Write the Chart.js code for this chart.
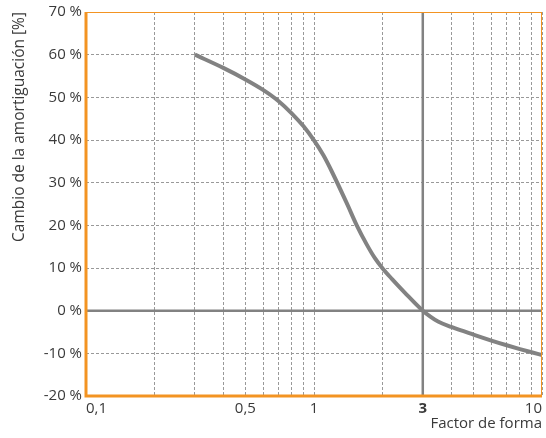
<!DOCTYPE html>
<html><head><meta charset="utf-8">
<script src="https://cdn.jsdelivr.net/npm/chart.js@4"></script>
<style>html,body{margin:0;padding:0;background:#fff}#wrap{width:546px;height:438px}</style>
</head><body><div id="wrap"><canvas id="c"></canvas></div>
<script>
// ---- data ----
const shapeFactor = [0.3,0.4,0.5,0.6,0.7,0.8,0.9,1.0,1.1,1.2,1.4,1.54,1.7,1.85,2.0,2.2,2.5,3.0,3.25,3.5,4,5,6,7,8,9,10];
const dampingChange = [60,56.9,54.2,51.7,49.1,46.2,43.2,39.9,36.4,32.5,24.9,20.0,15.6,12.3,9.9,7.4,4.25,0,-1.45,-2.55,-3.8,-5.6,-7.0,-8.1,-9.0,-9.75,-10.4];
const xGridValues = [0.1,0.2,0.3,0.4,0.5,0.6,0.7,0.8,0.9,1,2,3,4,5,6,7,8,9,10];
const xTickLabels = {'0.1':'0,1','0.5':'0,5','1':'1','3':'3','10':'10'};
const yMin = -20, yMax = 70, yStep = 10;
const refX = 3, refY = 0;
const xMin = 0.1, xMax = 10;
const yTitle = 'Cambio de la amortiguación [%]';
const xTitle = 'Factor de forma';

const ORANGE = '#F39422';
const GRAY = '#828282';
const TXT = '#3a3a3a';
const FONT = 'Open Sans';

const curve = shapeFactor.map((x,i)=>({x, y: dampingChange[i]}));

const framePlugin = {
  id:'frame',
  afterDraw(chart){
    const {ctx, chartArea:a} = chart;
    ctx.save();
    ctx.strokeStyle = ORANGE; ctx.lineWidth = 1; ctx.setLineDash([]);
    ctx.beginPath();
    ctx.moveTo(a.left, a.top+0.5); ctx.lineTo(a.right, a.top+0.5);
    ctx.moveTo(a.right-0.5, a.top); ctx.lineTo(a.right-0.5, a.bottom);
    ctx.stroke();
    ctx.lineWidth = 3;
    ctx.beginPath();
    ctx.moveTo(a.left, a.top); ctx.lineTo(a.left, a.bottom+1.5);
    ctx.moveTo(a.left-1.5, a.bottom); ctx.lineTo(a.right, a.bottom);
    ctx.stroke();
    ctx.restore();
  }
};

new Chart(document.getElementById('c'), {
  type:'line',
  data:{datasets:[
    {data:curve, borderColor:GRAY, borderWidth:4, pointRadius:0, cubicInterpolationMode:'monotone', fill:false, order:1},
    {data:[{x:refX,y:yMin},{x:refX,y:yMax}], borderColor:GRAY, borderWidth:2.5, pointRadius:0, order:2},
    {data:[{x:xMin,y:refY},{x:xMax,y:refY}], borderColor:GRAY, borderWidth:2.5, pointRadius:0, order:2}
  ]},
  options:{
    responsive:true, maintainAspectRatio:false, animation:false,
    layout:{padding:{top:12,right:4,left:0,bottom:0}},
    plugins:{legend:{display:false}, tooltip:{enabled:false}},
    scales:{
      x:{
        type:'logarithmic', min:xMin, max:xMax,
        afterBuildTicks(s){ s.ticks = xGridValues.map(v=>({value:v})); },
        afterFit(s){ s.height = 42; s.paddingLeft = 0; s.paddingRight = 0; },
        grid:{color:'#999999', lineWidth:1, drawTicks:false},
        border:{display:false, dash:[3,2]},
        ticks:{
          autoSkip:false, maxRotation:0, align:'inner', padding:4, color:TXT,
          font:(c)=>({family:FONT, size:15, weight: (c.tick && c.tick.value===3) ? 'bold':'normal'}),
          callback:(v)=> xTickLabels[String(v)] ?? ''
        },
        title:{display:true, text:xTitle, align:'end', color:TXT, font:{family:FONT,size:15}, padding:{top:0,bottom:5}}
      },
      y:{
        min:yMin, max:yMax,
        afterFit(s){ s.width = 86; s.paddingTop = 0; s.paddingBottom = 0; },
        grid:{color:'#999999', lineWidth:1, drawTicks:false},
        border:{display:false, dash:[3,2]},
        ticks:{stepSize:yStep, padding:4, color:TXT, font:{family:FONT,size:15}, callback:(v)=> v+' %'},
        title:{display:true, text:yTitle, align:'end', color:TXT, font:{family:FONT,size:15.5}, padding:{top:10,bottom:0}}
      }
    }
  },
  plugins:[framePlugin]
});
</script></body></html>
